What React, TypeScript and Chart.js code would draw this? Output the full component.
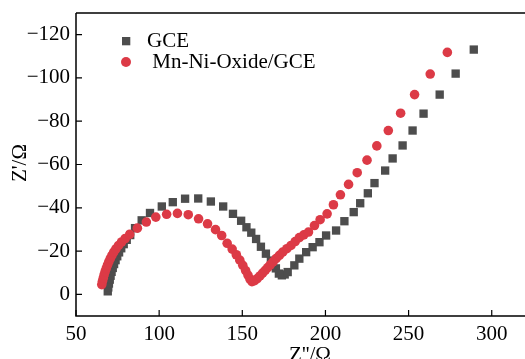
import { useEffect, useRef } from 'react';
import { Chart, registerables } from 'chart.js';

Chart.register(...registerables);

const seriesNames = ['GCE', 'Mn-Ni-Oxide/GCE'];

const gceX = [69.1, 69.4, 69.8, 70.3, 70.8, 71.4, 72.1, 72.9, 73.8, 74.8, 75.9, 77.2, 78.7, 80.5, 82.6, 85.5, 89.5, 94.5, 101.6, 108.2, 115.6, 123.5, 131.1, 138.5, 144.4, 149.3, 152.5, 155.4, 158.3, 161.2, 164.2, 167.2, 170.2, 172.0, 173.8, 175.5, 177.3, 181.3, 184.3, 188.4, 192.3, 196.4, 200.4, 206.4, 211.4, 217.0, 220.9, 225.5, 229.5, 235.9, 240.4, 246.4, 252.4, 259.0, 268.7, 278.3, 289.2];
const gceY = [-1.4, -3.2, -5.0, -6.8, -8.6, -10.4, -12.2, -14.0, -15.8, -17.6, -19.4, -21.3, -23.2, -25.2, -27.4, -30.6, -34.2, -37.6, -40.6, -42.6, -44.2, -44.3, -42.9, -40.6, -37.2, -34.0, -31.0, -28.5, -25.6, -22.0, -18.8, -15.6, -12.0, -9.6, -8.8, -9.2, -10.3, -13.4, -16.5, -19.5, -21.8, -24.1, -27.2, -29.5, -33.8, -38.0, -42.1, -46.7, -51.4, -57.2, -62.8, -68.8, -75.7, -83.5, -92.3, -102.0, -113.1];

const mnX = [65.5, 65.9, 66.4, 66.9, 67.5, 68.2, 68.9, 69.7, 70.6, 71.6, 72.7, 74.0, 75.6, 77.4, 79.6, 82.3, 86.9, 92.3, 98.0, 104.5, 111.0, 117.5, 123.7, 129.1, 133.9, 137.6, 140.9, 143.9, 146.4, 148.5, 150.3, 152.0, 153.4, 154.6, 155.8, 157.4, 159.0, 160.6, 162.2, 163.8, 165.3, 166.8, 168.5, 170.3, 172.3, 174.3, 176.8, 179.3, 181.8, 184.3, 187.0, 189.8, 193.4, 196.8, 201.0, 204.8, 209.0, 213.9, 219.1, 225.0, 230.9, 237.8, 245.2, 253.6, 263.0, 273.3];
const mnY = [-4.5, -6.0, -7.5, -9.0, -10.5, -12.0, -13.5, -15.0, -16.5, -18.0, -19.5, -21.0, -22.6, -24.2, -25.8, -27.7, -30.6, -33.4, -35.7, -37.0, -37.4, -36.8, -34.9, -32.6, -29.9, -27.2, -23.6, -20.9, -18.3, -15.8, -13.4, -11.0, -8.9, -7.1, -5.9, -6.3, -7.3, -8.5, -9.8, -11.1, -12.4, -13.6, -15.0, -16.5, -18.0, -19.5, -21.1, -22.6, -24.4, -26.2, -27.5, -28.8, -31.8, -34.5, -37.2, -41.4, -46.0, -50.8, -56.2, -62.0, -68.6, -75.7, -83.7, -92.3, -101.8, -111.8];

const xTicks = [50, 100, 150, 200, 250, 300];
const yTicks = [-120, -100, -80, -60, -40, -20, 0];
const xTitle = "Z''/Ω";
const yTitle = "Z'/Ω";

const GRAY = '#4d4d4d';
const RED = '#dc3a46';
const FONT = '"Liberation Serif", "Times New Roman", serif';

const fmt = (v: number) => String(v).replace('-', '\u2212');

const zeroPad = (s: any) => {
  s.paddingTop = 0;
  s.paddingBottom = 0;
  s.paddingLeft = 0;
  s.paddingRight = 0;
};

export default function App() {
  const ref = useRef<HTMLCanvasElement | null>(null);

  useEffect(() => {
    const canvas = ref.current;
    if (!canvas) return;

    const framePlugin = {
      id: 'frame',
      afterDraw(chart: any) {
        const { ctx, chartArea: a } = chart;
        const xs = chart.scales.x;
        const ys = chart.scales.y;
        ctx.save();
        ctx.strokeStyle = '#000';
        ctx.lineWidth = 1.5;
        ctx.beginPath();
        ctx.moveTo(a.left, a.top);
        ctx.lineTo(a.left, a.bottom);
        ctx.lineTo(a.right + 2, a.bottom);
        ctx.moveTo(a.left, a.top);
        ctx.lineTo(a.right + 2, a.top);
        ctx.stroke();
        ctx.lineWidth = 1.2;
        ctx.beginPath();
        xTicks.forEach((t) => {
          const p = xs.getPixelForValue(t);
          ctx.moveTo(p, a.bottom);
          ctx.lineTo(p, a.bottom - 6);
        });
        yTicks.forEach((t) => {
          const p = ys.getPixelForValue(t);
          ctx.moveTo(a.left, p);
          ctx.lineTo(a.left + 6, p);
        });
        ctx.stroke();

        ctx.fillStyle = '#000';
        ctx.font = `21px ${FONT}`;
        ctx.textAlign = 'center';
        ctx.textBaseline = 'alphabetic';
        ctx.fillText(xTitle, 310, 361);
        ctx.save();
        ctx.translate(26, 163);
        ctx.rotate(-Math.PI / 2);
        ctx.fillText(yTitle, 0, 0);
        ctx.restore();

        // legend
        ctx.textAlign = 'left';
        ctx.font = `21px ${FONT}`;
        ctx.fillStyle = GRAY;
        ctx.fillRect(122, 37, 8.3, 8.3);
        ctx.fillStyle = RED;
        ctx.beginPath();
        ctx.arc(126, 62, 5, 0, Math.PI * 2);
        ctx.fill();
        ctx.fillStyle = '#000';
        ctx.fillText(seriesNames[0], 147, 47);
        ctx.fillText(' ' + seriesNames[1], 147, 68);
        ctx.restore();
      },
    };

    const chart = new Chart(canvas, {
      type: 'scatter',
      data: {
        datasets: [
          {
            label: seriesNames[0],
            data: gceX.map((x, i) => ({ x, y: gceY[i] })),
            pointStyle: 'rect',
            pointRadius: 5.9,
            backgroundColor: GRAY,
            borderWidth: 0,
            order: 2,
          },
          {
            label: seriesNames[1],
            data: mnX.map((x, i) => ({ x, y: mnY[i] })),
            pointStyle: 'circle',
            pointRadius: 4.8,
            backgroundColor: RED,
            borderWidth: 0,
            order: 1,
          },
        ],
      },
      options: {
        responsive: false,
        animation: false,
        devicePixelRatio: 1,
        layout: { autoPadding: false, padding: { top: 13, right: 0, left: 0, bottom: 0 } },
        plugins: {
          legend: { display: false },
          tooltip: { enabled: false },
          title: { display: false },
        },
        scales: {
          x: {
            type: 'linear',
            min: 50,
            max: 320,
            grid: { display: false, drawTicks: false },
            border: { display: false },
            afterFit: (s: any) => {
              s.height = 43;
              zeroPad(s);
            },
            afterBuildTicks: (s: any) => {
              s.ticks = xTicks.map((v) => ({ value: v }));
            },
            ticks: {
              padding: 6,
              color: '#000',
              font: { family: FONT, size: 21 },
              maxRotation: 0,
              autoSkip: false,
              callback: (v: any) => fmt(Number(v)),
            },
          },
          y: {
            type: 'linear',
            reverse: true,
            min: -130,
            max: 10,
            grid: { display: false, drawTicks: false },
            border: { display: false },
            afterFit: (s: any) => {
              s.width = 76;
              zeroPad(s);
            },
            afterBuildTicks: (s: any) => {
              s.ticks = yTicks.map((v) => ({ value: v }));
            },
            ticks: {
              padding: 6,
              color: '#000',
              font: { family: FONT, size: 21 },
              autoSkip: false,
              callback: (v: any) => fmt(Number(v)),
            },
          },
        },
      },
      plugins: [framePlugin],
    });

    return () => chart.destroy();
  }, []);

  return (
    <canvas
      ref={ref}
      width={525}
      height={359}
      style={{ position: 'fixed', left: 0, top: 0, width: 525, height: 359 }}
    />
  );
}
